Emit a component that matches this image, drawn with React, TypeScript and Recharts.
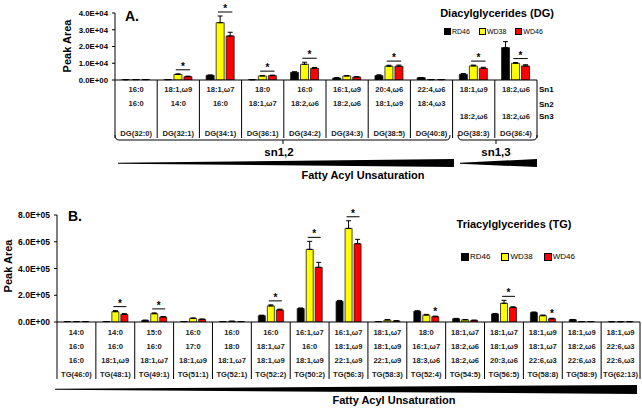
import React from 'react'
import { BarChart, Bar, XAxis, YAxis, ErrorBar, LabelList, Legend } from 'recharts'

// ─────────────────────────────────────────
// Two-panel lipid figure
//   A. Diacylglycerides (DG) – peak areas per species
//   B. Triacylglycerides (TG) – peak areas per species
// Each species gets a small table under the axis (fatty acyl chains)
// ─────────────────────────────────────────

const FONT = "'Liberation Sans', Arial, Helvetica, sans-serif"

// ── Panel A data ──
const dgCategories = ['DG(32:0)', 'DG(32:1)', 'DG(34:1)', 'DG(36:1)', 'DG(34:2)', 'DG(34:3)', 'DG(38:5)', 'DG(40:8)', 'DG(38:3)', 'DG(36:4)']
const dgSn1 = ['16:0', '18:1,ω9', '18:1,ω7', '18:0', '16:0', '16:1,ω9', '20:4,ω6', '22:4,ω6', '18:1,ω9', '18:2,ω6']
const dgSn2 = ['16:0', '14:0', '16:0', '18:1,ω7', '18:2,ω6', '18:2,ω6', '18:1,ω9', '18:4,ω3', '', '']
const dgSn3 = ['', '', '', '', '', '', '', '', '18:2,ω6', '18:2,ω6']
const dgRD46 = [150, 200, 2800, 150, 4600, 1200, 2600, 1400, 3400, 19300]
const dgWD38 = [200, 3300, 34200, 2400, 9400, 2400, 8200, 200, 8400, 10000]
const dgWD46 = [200, 2000, 26300, 2600, 7000, 1800, 8200, 200, 7000, 8400]
const dgRD46Err = [50, 50, 200, 50, 300, 200, 500, 100, 400, 3600]
const dgWD38Err = [50, 400, 4000, 300, 1200, 200, 600, 50, 500, 400]
const dgWD46Err = [50, 300, 2200, 300, 500, 200, 700, 50, 600, 700]
const dgSig = ['', 'pair', 'pair', 'pair', 'pair', '', 'pair', '', 'pair', 'pair']
const dgTicks = [0, 10000, 20000, 30000, 40000]

// ── Panel B data ──
const tgCategories = ['TG(46:0)', 'TG(48:1)', 'TG(49:1)', 'TG(51:1)', 'TG(52:1)', 'TG(52:2)', 'TG(50:2)', 'TG(56:3)', 'TG(58:3)', 'TG(52:4)', 'TG(54:5)', 'TG(56:5)', 'TG(58:8)', 'TG(58:9)', 'TG(62:13)']
const tgFa1 = ['14:0', '14:0', '15:0', '16:0', '16:0', '16:0', '16:1,ω7', '16:1,ω7', '18:1,ω7', '18:0', '18:1,ω7', '18:1,ω7', '18:1,ω9', '18:1,ω9', '18:1,ω9']
const tgFa2 = ['16:0', '16:0', '16:0', '17:0', '18:0', '18:1,ω7', '16:0', '18:1,ω9', '18:1,ω9', '16:1,ω7', '18:2,ω6', '18:1,ω9', '18:1,ω7', '18:2,ω6', '22:6,ω3']
const tgFa3 = ['16:0', '18:1,ω9', '18:1,ω7', '18:1,ω9', '18:1,ω7', '18:1,ω9', '18:1,ω9', '22:1,ω9', '22:1,ω9', '18:3,ω6', '18:2,ω6', '20:3,ω6', '22:6,ω3', '22:6,ω3', '22:6,ω3']
const tgRD46 = [3000, 3000, 12000, 3000, 3000, 47000, 100000, 155000, 3000, 80000, 24000, 60000, 70000, 17000, 2000]
const tgWD38 = [3000, 77000, 62000, 27000, 5000, 120000, 543000, 700000, 15000, 52000, 16000, 140000, 47000, 3000, 2000]
const tgWD46 = [3000, 57000, 37000, 20000, 3000, 90000, 409000, 585000, 8000, 40000, 12000, 108000, 24000, 3000, 2000]
const tgRD46Err = [500, 500, 2000, 500, 500, 4000, 5000, 6000, 500, 4000, 3000, 4000, 5000, 2000, 500]
const tgWD38Err = [500, 8000, 6000, 3000, 1000, 8000, 60000, 57000, 2000, 5000, 2000, 22000, 5000, 500, 500]
const tgWD46Err = [500, 5000, 4000, 2000, 500, 6000, 37000, 33000, 1000, 4000, 2000, 6000, 4000, 500, 500]
const tgSig = ['', 'pair', 'pair', '', '', 'pair', 'pair', 'pair', '', 'single', '', 'pair', 'single', '', '']
const tgTicks = [0, 200000, 400000, 600000, 800000]

const series = [
  { key: 'rd46', name: 'RD46', color: '#000000' },
  { key: 'wd38', name: 'WD38', color: '#FFFF00' },
  { key: 'wd46', name: 'WD46', color: '#FF0000' },
]

function buildRows(
  cats: string[], table: string[][], rd: number[], w38: number[], w46: number[],
  rdErr: number[], w38Err: number[], w46Err: number[], sig: string[],
) {
  return cats.map((name, i) => ({
    name,
    rows: table.map((r) => r[i]),
    rd46: rd[i], wd38: w38[i], wd46: w46[i],
    rd46Err: [0, rdErr[i]], wd38Err: [0, w38Err[i]], wd46Err: [0, w46Err[i]],
    sig: sig[i],
  }))
}

const dgData = buildRows(dgCategories, [dgSn1, dgSn2, dgSn3], dgRD46, dgWD38, dgWD46, dgRD46Err, dgWD38Err, dgWD46Err, dgSig)
const tgData = buildRows(tgCategories, [tgFa1, tgFa2, tgFa3], tgRD46, tgWD38, tgWD46, tgRD46Err, tgWD38Err, tgWD46Err, tgSig)

// 4.0E+04 style
function sci(v: number) {
  if (v === 0) return '0.0E+00'
  const e = Math.floor(Math.log10(v))
  const m = v / Math.pow(10, e)
  return `${m.toFixed(1)}E+${String(e).padStart(2, '0')}`
}

// Table under the x axis: one column per species
function makeTableTick(data: any[], rowDy: number[], nameDy: number, lineLen: number, halfFallback: number) {
  return (props: any) => {
    const { x, y, payload } = props
    const d = data[payload.index]
    if (!d) return null
    const half = typeof payload.offset === 'number' && payload.offset > 0 ? payload.offset : halfFallback
    const last = payload.index === data.length - 1
    return (
      <g>
        <line x1={x - half} x2={x - half} y1={y} y2={y + lineLen} stroke="#000" strokeWidth={1} />
        {last && <line x1={x + half} x2={x + half} y1={y} y2={y + lineLen} stroke="#000" strokeWidth={1} />}
        {d.rows.map((r: string, k: number) =>
          r ? (
            <text key={k} x={x} y={y + rowDy[k]} textAnchor="middle" dominantBaseline="central"
              fontSize={7.6} fontWeight="bold" fontFamily={FONT} fill="#222">{r}</text>
          ) : null,
        )}
        <text x={x} y={y + nameDy} textAnchor="middle" dominantBaseline="central"
          fontSize={7.6} fontWeight="bold" fontFamily={FONT} fill="#222">{d.name}</text>
      </g>
    )
  }
}

// Asterisks (+ bar over WD38/WD46) hung on the WD46 bar
function makeSigLabel(data: any[], barGap: number) {
  return (props: any) => {
    const d = data[props.index]
    if (!d || !d.sig) return null
    const vb = props.viewBox && props.viewBox.width != null ? props.viewBox : props
    const bx = Number(vb.x), by = Number(vb.y), bw = Number(vb.width), bh = Number(vb.height)
    if (!bh || !d.wd46) return null
    const top = bh >= 0 ? by : by + bh
    const base = top + Math.abs(bh)
    const ratio = Math.abs(bh) / d.wd46
    if (d.sig === 'single') {
      const t = base - (d.wd46 + d.wd46Err[1]) * ratio
      return (
        <text x={bx + bw / 2} y={t - 1} textAnchor="middle" fontSize={10} fontWeight="bold" fontFamily={FONT}>*</text>
      )
    }
    const pitch = bw + barGap
    const t = base - Math.max(d.wd38 + d.wd38Err[1], d.wd46 + d.wd46Err[1]) * ratio
    const ly = t - 4
    const cx = bx + bw / 2 - pitch / 2
    return (
      <g>
        <line x1={cx - pitch * 0.72} x2={cx + pitch * 0.72} y1={ly} y2={ly} stroke="#000" strokeWidth={1} />
        <text x={cx} y={ly} textAnchor="middle" fontSize={10} fontWeight="bold" fontFamily={FONT}>*</text>
      </g>
    )
  }
}

function LegendBox({ fontSize, gap, box }: { fontSize: number; gap: number; box: number }) {
  return (
    <div style={{ display: 'flex', gap, fontFamily: FONT, fontSize, lineHeight: `${fontSize + 2}px`, color: '#000' }}>
      {series.map((s) => (
        <span key={s.key} style={{ display: 'flex', alignItems: 'center' }}>
          <span style={{ width: box, height: box, background: s.color, border: '1px solid #000', marginRight: 1 }} />
          {s.name}
        </span>
      ))}
    </div>
  )
}

function renderBars(data: any[], barGap: number) {
  return series.map((s) => (
    <Bar key={s.key} dataKey={s.key} name={s.name} fill={s.color} stroke="#1a1a1a" strokeWidth={0.8}
      isAnimationActive={false}>
      <ErrorBar dataKey={`${s.key}Err`} width={2.5} stroke="#000" strokeWidth={1} direction="y" isAnimationActive={false} />
      {s.key === 'wd46' && <LabelList dataKey="sig" content={makeSigLabel(data, barGap)} />}
    </Bar>
  ))
}

const tickStyle = (size: number) => ({ fontSize: size, fontWeight: 'bold', fill: '#000', fontFamily: FONT })

export default function App() {
  return (
    <div style={{ position: 'absolute', left: 0, top: 0, width: 642, height: 410, background: '#fff', overflow: 'hidden' }}>
      {/* Panel A */}
      <div style={{ position: 'absolute', left: 0, top: 0 }}>
        <BarChart width={642} height={200} data={dgData} margin={{ top: 13, right: 105, left: 0, bottom: 0 }}
          barCategoryGap="16%" barGap={2}>
          <XAxis dataKey="name" height={120} interval={0} tickSize={0} tickMargin={0} tickLine={false}
            axisLine={{ stroke: '#000', strokeWidth: 1.2 }}
            tick={makeTableTick(dgData, [9, 23.5, 36], 53, 58, 21.1)} />
          <YAxis width={115} domain={[0, 40000]} ticks={dgTicks} tickFormatter={sci} interval={0}
            allowDataOverflow tickSize={3} tickMargin={4} tick={tickStyle(7.8)}
            axisLine={{ stroke: '#000' }} tickLine={{ stroke: '#000' }} />
          <Legend verticalAlign="middle" align="center"
            wrapperStyle={{ left: 444, top: 27, width: 'auto', height: 'auto' }}
            content={() => <LegendBox fontSize={7} gap={9} box={5} />} />
          {renderBars(dgData, 2)}
        </BarChart>
      </div>

      {/* Panel B */}
      <div style={{ position: 'absolute', left: 0, top: 200 }}>
        <BarChart width={642} height={210} data={tgData} margin={{ top: 15, right: 2, left: 0, bottom: 0 }}
          barCategoryGap="18%" barGap={2}>
          <XAxis dataKey="name" height={88} interval={0} tickSize={0} tickMargin={0} tickLine={false}
            axisLine={{ stroke: '#000', strokeWidth: 1.2 }}
            tick={makeTableTick(tgData, [10, 24, 38], 52, 57, 19.4)} />
          <YAxis width={57} domain={[0, 800000]} ticks={tgTicks} tickFormatter={sci} interval={0}
            allowDataOverflow tickSize={3} tickMargin={4} tick={tickStyle(8.5)}
            axisLine={{ stroke: '#000' }} tickLine={{ stroke: '#000' }} />
          <Legend verticalAlign="middle" align="center"
            wrapperStyle={{ left: 461, top: 52, width: 'auto', height: 'auto' }}
            content={() => <LegendBox fontSize={8} gap={11} box={6} />} />
          {renderBars(tgData, 2)}
        </BarChart>
      </div>

      {/* Annotations: titles, panel letters, brackets, unsaturation wedges */}
      <svg width={642} height={410} style={{ position: 'absolute', left: 0, top: 0, pointerEvents: 'none' }}
        fontFamily={FONT}>
        <text x={125} y={16} fontSize={14} fontWeight="bold" dominantBaseline="central">A.</text>
        <text x={497} y={13} fontSize={11} fontWeight="bold" textAnchor="middle" dominantBaseline="central">Diacylglycerides (DG)</text>
        <text transform="translate(67,46) rotate(-90)" fontSize={11} fontWeight="bold" textAnchor="middle" dominantBaseline="central">Peak Area</text>
        <text x={539} y={89} fontSize={8} fontWeight="bold" dominantBaseline="central">Sn1</text>
        <text x={539} y={104} fontSize={8} fontWeight="bold" dominantBaseline="central">Sn2</text>
        <text x={539} y={116} fontSize={8} fontWeight="bold" dominantBaseline="central">Sn3</text>

        <path d="M115,135 Q115,140 119,140 L446,140 Q450,140 450,135 M283,140 L283,144" fill="none" stroke="#000" strokeWidth={1} />
        <path d="M458,135 Q458,140 462,140 L533,140 Q537,140 537,135 M496,140 L496,144" fill="none" stroke="#000" strokeWidth={1} />
        <text x={279} y={152} fontSize={11.5} fontWeight="bold" textAnchor="middle" dominantBaseline="central">sn1,2</text>
        <text x={496} y={152} fontSize={11.5} fontWeight="bold" textAnchor="middle" dominantBaseline="central">sn1,3</text>
        <polygon points="118,162.8 454,159 454,167 118,163.8" fill="#000" />
        <polygon points="460,162.8 537,159 537,167 460,163.8" fill="#000" />
        <text x={363} y={175} fontSize={11} fontWeight="bold" textAnchor="middle" dominantBaseline="central">Fatty Acyl Unsaturation</text>

        <text x={68} y={216} fontSize={14} fontWeight="bold" dominantBaseline="central">B.</text>
        <text x={514} y={224} fontSize={11} fontWeight="bold" textAnchor="middle" dominantBaseline="central">Triacylglycerides (TG)</text>
        <text transform="translate(8,266) rotate(-90)" fontSize={11} fontWeight="bold" textAnchor="middle" dominantBaseline="central">Peak Area</text>
        <polygon points="55,388.8 637,385 637,394 55,389.8" fill="#000" />
        <text x={394} y={400} fontSize={11} fontWeight="bold" textAnchor="middle" dominantBaseline="central">Fatty Acyl Unsaturation</text>
      </svg>
    </div>
  )
}
